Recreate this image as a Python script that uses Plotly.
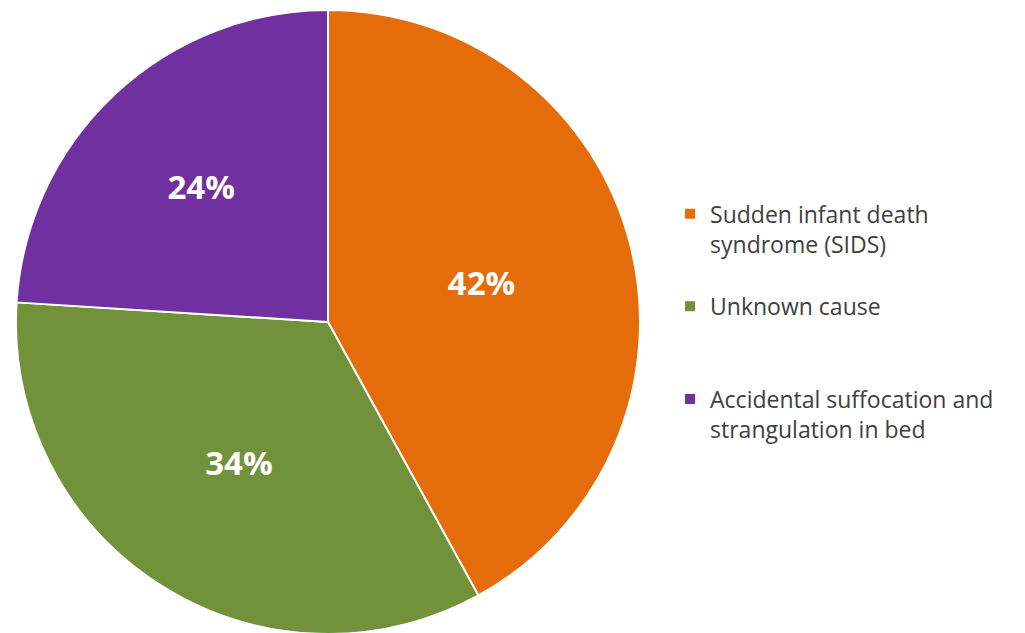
import plotly.graph_objects as go

labels = [
    "Sudden infant death<br>syndrome (SIDS)<br>\u00a0",
    "Unknown cause<br>\u00a0<br>\u00a0",
    "Accidental suffocation and<br>strangulation in bed",
]
values = [42, 34, 24]
colors = ["#E46C0A", "#71913A", "#7030A0"]

fig = go.Figure(
    go.Pie(
        labels=labels,
        values=values,
        sort=False,
        direction="clockwise",
        rotation=0,
        marker=dict(colors=colors, line=dict(color="#FFFFFF", width=2)),
        texttemplate="%{value}%",
        textposition="inside",
        insidetextorientation="horizontal",
        textfont=dict(family="Open Sans", size=33, color="#FFFFFF", weight="bold"),
        hoverinfo="label+percent",
        domain=dict(x=[0.0078, 0.6166], y=[0.011, 0.997]),
    )
)

fig.update_layout(
    width=1025,
    height=633,
    margin=dict(l=0, r=0, t=0, b=0),
    paper_bgcolor="#FFFFFF",
    plot_bgcolor="#FFFFFF",
    showlegend=True,
    legend=dict(
        x=0.6459,
        xanchor="left",
        y=0.709,
        yanchor="top",
        valign="top",
        font=dict(family="Open Sans", size=23, color="#404040"),
        bgcolor="rgba(0,0,0,0)",
    ),
)

fig.write_html("out.html")
